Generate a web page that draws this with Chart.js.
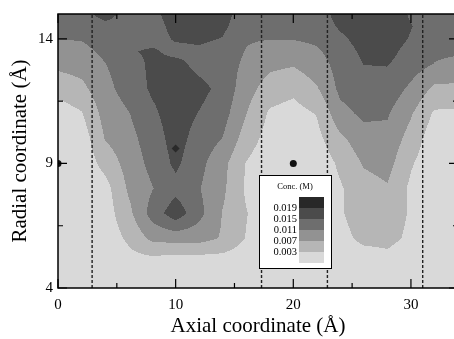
<!DOCTYPE html>
<html>
<head>
<meta charset="utf-8">
<script src="https://cdn.jsdelivr.net/npm/chart.js@4"></script>
<style>
  html, body { margin: 0; padding: 0; background: #fff; overflow: hidden; }
  canvas { display: block; }
</style>
</head>
<body>
<canvas id="concChart" width="462" height="339"></canvas>
<script>
// Grid of the concentration map (M)
const axialX = [0, 2, 4, 6, 8, 10, 12, 14, 16, 18, 20, 22, 24, 26, 28, 30, 32, 34];
const radialY = [15, 14.5, 14, 13.5, 13, 12, 11, 10, 9, 8, 7, 6, 5, 4];
const concRows = [
    [0.0130, 0.0134, 0.0166, 0.0134, 0.0138, 0.0170, 0.0174, 0.0162, 0.0134, 0.0126, 0.0126, 0.0130, 0.0166, 0.0178, 0.0182, 0.0144, 0.0130, 0.0130],
    [0.0122, 0.0124, 0.0138, 0.0136, 0.0134, 0.0162, 0.0166, 0.0158, 0.0124, 0.0118, 0.0118, 0.0124, 0.0156, 0.0172, 0.0178, 0.0152, 0.0126, 0.0124],
    [0.0111, 0.0112, 0.0126, 0.0136, 0.0134, 0.0154, 0.0158, 0.0148, 0.0114, 0.0111, 0.0112, 0.0118, 0.0142, 0.0166, 0.0174, 0.0146, 0.0122, 0.0118],
    [0.0095, 0.0100, 0.0118, 0.0146, 0.0156, 0.0138, 0.0142, 0.0132, 0.0108, 0.0094, 0.0091, 0.0104, 0.0132, 0.0158, 0.0164, 0.0134, 0.0116, 0.0114],
    [0.0080, 0.0087, 0.0109, 0.0132, 0.0158, 0.0162, 0.0138, 0.0130, 0.0102, 0.0080, 0.0074, 0.0092, 0.0126, 0.0151, 0.0152, 0.0130, 0.0109, 0.0102],
    [0.0045, 0.0059, 0.0098, 0.0127, 0.0156, 0.0170, 0.0162, 0.0138, 0.0086, 0.0051, 0.0040, 0.0066, 0.0120, 0.0130, 0.0134, 0.0102, 0.0062, 0.0060],
    [0.0008, 0.0027, 0.0085, 0.0108, 0.0142, 0.0170, 0.0148, 0.0126, 0.0071, 0.0024, 0.0014, 0.0032, 0.0098, 0.0118, 0.0114, 0.0074, 0.0024, 0.0022],
    [0.0002, 0.0006, 0.0072, 0.0097, 0.0130, 0.0166, 0.0134, 0.0109, 0.0050, 0.0014, 0.0002, 0.0018, 0.0062, 0.0094, 0.0098, 0.0054, 0.0006, 0.0002],
    [0.0002, 0.0002, 0.0044, 0.0086, 0.0122, 0.0158, 0.0122, 0.0082, 0.0028, 0.0002, 0.0002, 0.0002, 0.0038, 0.0074, 0.0084, 0.0034, 0.0002, 0.0002],
    [0.0002, 0.0002, 0.0014, 0.0076, 0.0108, 0.0138, 0.0112, 0.0078, 0.0024, 0.0002, 0.0002, 0.0002, 0.0026, 0.0054, 0.0066, 0.0022, 0.0002, 0.0002],
    [0.0002, 0.0002, 0.0010, 0.0059, 0.0126, 0.0174, 0.0122, 0.0068, 0.0032, 0.0002, 0.0002, 0.0002, 0.0026, 0.0050, 0.0050, 0.0026, 0.0002, 0.0002],
    [0.0002, 0.0002, 0.0006, 0.0037, 0.0080, 0.0086, 0.0086, 0.0066, 0.0028, 0.0002, 0.0002, 0.0002, 0.0018, 0.0040, 0.0042, 0.0022, 0.0002, 0.0002],
    [0.0002, 0.0002, 0.0002, 0.0014, 0.0010, 0.0002, 0.0002, 0.0006, 0.0002, 0.0002, 0.0002, 0.0002, 0.0002, 0.0006, 0.0014, 0.0002, 0.0002, 0.0002],
    [0.0001, 0.0001, 0.0001, 0.0001, 0.0001, 0.0001, 0.0001, 0.0001, 0.0001, 0.0001, 0.0001, 0.0001, 0.0001, 0.0001, 0.0001, 0.0001, 0.0001, 0.0001]
];

// Contour levels and fills
const concLevels = [0.003, 0.007, 0.011, 0.015, 0.019];
const levelLabels = ['0.003', '0.007', '0.011', '0.015', '0.019'];
const levelColors = ['#d9d9d9', '#b6b6b6', '#929292', '#6e6e6e', '#4b4b4b', '#282828'];

// Dashed dividers and markers
const dividerX = [2.9, 17.3, 22.9, 31.0];
const dotPoints = [{ x: 20, y: 9 }, { x: 0, y: 9 }];
const peakPoints = [{ x: 10, y: 9.6 }];

// Ticks and tick labels
const xTickValues = [0, 5, 10, 15, 20, 25, 30];
const yTickValues = [4, 6.5, 9, 11.5, 14];
const xLabels = [0, 10, 20, 30];
const yLabels = [4, 9, 14];

const serif = "'Liberation Serif', 'Times New Roman', serif";

// Bilinear lookup in the grid
function concAt(x, y) {
    let i = 0;
    while (i < axialX.length - 2 && x > axialX[i + 1]) i++;
    let j = 0;
    while (j < radialY.length - 2 && y < radialY[j + 1]) j++;
    const tx = Math.min(1, Math.max(0, (x - axialX[i]) / (axialX[i + 1] - axialX[i])));
    const ty = Math.min(1, Math.max(0, (y - radialY[j]) / (radialY[j + 1] - radialY[j])));
    const a = concRows[j][i], b = concRows[j][i + 1];
    const c = concRows[j + 1][i], d = concRows[j + 1][i + 1];
    return (a * (1 - tx) + b * tx) * (1 - ty) + (c * (1 - tx) + d * tx) * ty;
}

function hexToRgb(hex) {
    return [1, 3, 5].map(k => parseInt(hex.substr(k, 2), 16));
}

// Filled contours, painted pixel by pixel through the chart scales
const contourFill = {
    id: 'contourFill',
    beforeDatasetsDraw(chart) {
        const { ctx, chartArea: area, scales } = chart;
        const w = Math.round(area.right - area.left);
        const h = Math.round(area.bottom - area.top);
        const off = document.createElement('canvas');
        off.width = w;
        off.height = h;
        const octx = off.getContext('2d');
        const img = octx.createImageData(w, h);
        const rgb = levelColors.map(hexToRgb);
        for (let py = 0; py < h; py++) {
            const y = scales.y.getValueForPixel(area.top + py + 0.5);
            for (let px = 0; px < w; px++) {
                const x = scales.x.getValueForPixel(area.left + px + 0.5);
                const c = concAt(x, y);
                let lvl = 0;
                while (lvl < concLevels.length && c >= concLevels[lvl]) lvl++;
                const k = (py * w + px) * 4;
                img.data[k] = rgb[lvl][0];
                img.data[k + 1] = rgb[lvl][1];
                img.data[k + 2] = rgb[lvl][2];
                img.data[k + 3] = 255;
            }
        }
        octx.putImageData(img, 0, 0);
        ctx.drawImage(off, area.left, area.top);
    }
};

// Frame with inward ticks on all four sides
const frameTicks = {
    id: 'frameTicks',
    afterDatasetsDraw(chart) {
        const { ctx, chartArea: area, scales } = chart;
        ctx.save();
        ctx.strokeStyle = '#000';
        ctx.lineWidth = 1.5;
        ctx.strokeRect(area.left, area.top, area.right - area.left, area.bottom - area.top);
        ctx.lineWidth = 1.2;
        ctx.beginPath();
        scales.x.ticks.forEach(t => {
            const px = scales.x.getPixelForValue(t.value);
            const len = xLabels.includes(t.value) ? 9 : 5;
            ctx.moveTo(px, area.bottom);
            ctx.lineTo(px, area.bottom - len);
            ctx.moveTo(px, area.top);
            ctx.lineTo(px, area.top + len);
        });
        scales.y.ticks.forEach(t => {
            const py = scales.y.getPixelForValue(t.value);
            const len = yLabels.includes(t.value) ? 9 : 5;
            ctx.moveTo(area.left, py);
            ctx.lineTo(area.left + len, py);
            ctx.moveTo(area.right, py);
            ctx.lineTo(area.right - len, py);
        });
        ctx.stroke();
        ctx.restore();
    }
};

// Colour key box
const concKey = {
    id: 'concKey',
    afterDraw(chart) {
        const ctx = chart.ctx;
        const bx = 259, by = 175, bw = 72, bh = 93;
        const sx = 299, sy = 197, sw = 25, sh = 11;
        ctx.save();
        ctx.fillStyle = '#fff';
        ctx.fillRect(bx, by, bw, bh);
        ctx.strokeStyle = '#000';
        ctx.lineWidth = 1;
        ctx.strokeRect(bx + 0.5, by + 0.5, bw, bh);
        ctx.fillStyle = '#000';
        ctx.font = '8.5px ' + serif;
        ctx.textAlign = 'center';
        ctx.textBaseline = 'middle';
        ctx.fillText('Conc. (M)', bx + bw / 2, by + 12);
        for (let i = 0; i < levelColors.length; i++) {
            ctx.fillStyle = levelColors[levelColors.length - 1 - i];
            ctx.fillRect(sx, sy + i * sh, sw, sh);
        }
        ctx.fillStyle = '#000';
        ctx.font = '10.5px ' + serif;
        ctx.textAlign = 'right';
        for (let i = 0; i < levelLabels.length; i++) {
            const label = levelLabels[levelLabels.length - 1 - i];
            ctx.fillText(label, sx - 2, sy + (i + 1) * sh);
        }
        ctx.restore();
    }
};

const dividerSets = dividerX.map(d => ({
    type: 'line',
    data: [{ x: d, y: 4 }, { x: d, y: 15 }],
    borderColor: '#222',
    borderWidth: 1.4,
    borderDash: [3, 2],
    pointRadius: 0,
    fill: false
}));

const ctx = document.getElementById('concChart').getContext('2d');
new Chart(ctx, {
    type: 'scatter',
    data: {
        datasets: [
            ...dividerSets,
            {
                data: dotPoints,
                backgroundColor: '#111',
                borderWidth: 0,
                pointRadius: 3.5
            },
            {
                data: peakPoints,
                pointStyle: 'rectRot',
                backgroundColor: '#2a2a2a',
                borderWidth: 0,
                pointRadius: 4
            }
        ]
    },
    options: {
        responsive: false,
        animation: false,
        layout: { padding: { top: 11, right: 4, left: 0, bottom: 0 } },
        plugins: {
            legend: { display: false },
            tooltip: { enabled: false }
        },
        scales: {
            x: {
                type: 'linear',
                min: 0,
                max: 34,
                afterFit: scale => { scale.height = 51; },
                afterBuildTicks: scale => { scale.ticks = xTickValues.map(v => ({ value: v })); },
                grid: { display: false, drawTicks: false },
                border: { display: false },
                ticks: {
                    autoSkip: false,
                    maxRotation: 0,
                    padding: 8,
                    color: '#000',
                    font: { family: serif, size: 15 },
                    callback: v => xLabels.includes(v) ? String(v) : ''
                },
                title: {
                    display: true,
                    text: 'Axial coordinate (Å)',
                    color: '#000',
                    font: { family: serif, size: 21 },
                    padding: { top: 0, bottom: 0 }
                }
            },
            y: {
                type: 'linear',
                min: 4,
                max: 15,
                afterFit: scale => { scale.width = 58; },
                afterBuildTicks: scale => { scale.ticks = yTickValues.map(v => ({ value: v })); },
                grid: { display: false, drawTicks: false },
                border: { display: false },
                ticks: {
                    autoSkip: false,
                    padding: 5,
                    color: '#000',
                    font: { family: serif, size: 15 },
                    callback: v => yLabels.includes(v) ? String(v) : ''
                },
                title: {
                    display: true,
                    text: 'Radial coordinate (Å)',
                    color: '#000',
                    font: { family: serif, size: 21 },
                    padding: { top: 8, bottom: 0 }
                }
            }
        }
    },
    plugins: [contourFill, frameTicks, concKey]
});
</script>
</body>
</html>
